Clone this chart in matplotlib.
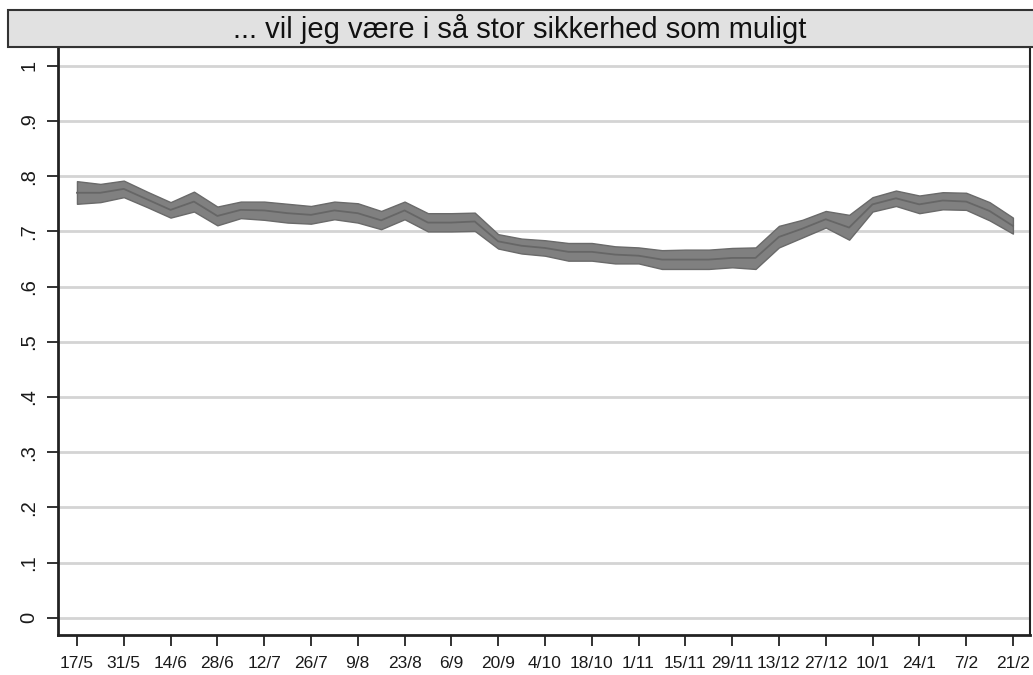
import numpy as np
import matplotlib
matplotlib.use("Agg")
from matplotlib import pyplot as plt
from matplotlib.patches import Rectangle

# weekly estimates with confidence band
center = [0.770, 0.770, 0.777, 0.758, 0.739, 0.754, 0.728, 0.739, 0.738, 0.733,
          0.730, 0.738, 0.733, 0.720, 0.738, 0.716, 0.716, 0.718, 0.682, 0.674,
          0.670, 0.663, 0.663, 0.658, 0.656, 0.649, 0.649, 0.649, 0.652, 0.652,
          0.690, 0.705, 0.722, 0.707, 0.749, 0.760, 0.749, 0.756, 0.754, 0.737,
          0.710]
upper = [0.791, 0.786, 0.792, 0.772, 0.753, 0.772, 0.745, 0.754, 0.754, 0.750,
         0.746, 0.754, 0.751, 0.737, 0.754, 0.733, 0.733, 0.734, 0.695, 0.687,
         0.684, 0.679, 0.679, 0.673, 0.671, 0.666, 0.667, 0.667, 0.670, 0.671,
         0.710, 0.721, 0.737, 0.730, 0.762, 0.774, 0.765, 0.771, 0.770, 0.753,
         0.725]
lower = [0.750, 0.753, 0.762, 0.744, 0.725, 0.736, 0.711, 0.724, 0.721, 0.716,
         0.714, 0.722, 0.716, 0.704, 0.722, 0.700, 0.700, 0.701, 0.669, 0.660,
         0.656, 0.647, 0.647, 0.642, 0.642, 0.632, 0.632, 0.632, 0.635, 0.632,
         0.671, 0.689, 0.707, 0.685, 0.736, 0.746, 0.733, 0.740, 0.739, 0.720,
         0.696]
xlabels = ["17/5", "31/5", "14/6", "28/6", "12/7", "26/7", "9/8", "23/8", "6/9",
           "20/9", "4/10", "18/10", "1/11", "15/11", "29/11", "13/12", "27/12",
           "10/1", "24/1", "7/2", "21/2"]
ylabels = ["0", ".1", ".2", ".3", ".4", ".5", ".6", ".7", ".8", ".9", "1"]
title = "... vil jeg være i så stor sikkerhed som muligt"

plt.rcParams['font.family'] = ['Liberation Sans', 'DejaVu Sans']

fig = plt.figure(figsize=(10.33, 6.75), dpi=100)
ax = fig.add_axes([58/1033, 40/675, (1030-58)/1033, (635-47)/675])

weeks = np.arange(len(center))
ax.fill_between(weeks, lower, upper, color='#808080', edgecolor='#6a6a6a',
                linewidth=1.0, zorder=3)
ax.plot(weeks, center, color='#666666', linewidth=1.3, zorder=4)

yt = np.linspace(0, 1, len(ylabels))
ax.set_yticks(yt)
ax.set_yticklabels(ylabels, rotation=90, va='center', fontsize=14.5, color='#1a1a1a')
ax.set_xticks(weeks[::2])
ax.set_xticklabels(xlabels, fontsize=12.5, color='#1a1a1a')
ax.set_xlim(-0.81, 40.73)
ax.set_ylim(-0.031, 1.034)

for v in yt:
    ax.axhline(v, color='#d4d4d4', linewidth=2, zorder=1)

for s in ax.spines.values():
    s.set_color('#222222')
    s.set_linewidth(1.5)
ax.spines['left'].set_linewidth(2)
ax.spines['bottom'].set_linewidth(2)
ax.tick_params(axis='both', length=8, width=1.3, color='#222222', pad=7)
ax.tick_params(axis='y', pad=6)

fig.patches.append(Rectangle((8/1033, (675-47)/675), 1.0, 37/675,
                             transform=fig.transFigure, facecolor='#e1e1e1',
                             edgecolor='#333333', linewidth=1.5, zorder=0))
fig.text(520/1033, (675-29)/675, title, ha='center', va='center',
         fontsize=21, color='#111111')

fig.savefig("out.png", dpi=100)
